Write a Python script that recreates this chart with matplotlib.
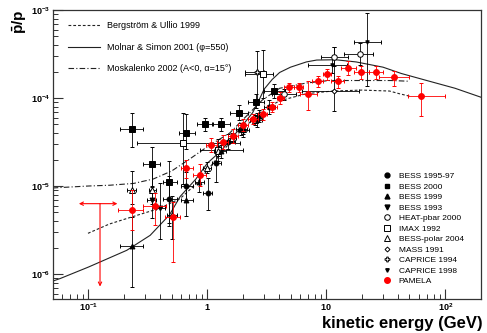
import numpy as np
import matplotlib
matplotlib.use('Agg')
import matplotlib.pyplot as plt
from matplotlib.lines import Line2D

plt.rcParams['font.family'] = ['Liberation Sans', 'DejaVu Sans']
plt.rcParams['mathtext.fontset'] = 'custom'
plt.rcParams['mathtext.rm'] = 'Liberation Sans'
plt.rcParams['mathtext.bf'] = 'Liberation Sans:bold'
plt.rcParams['mathtext.it'] = 'Liberation Sans:italic'

# ---------------- theoretical curves ----------------
molnar_x = [0.05, 0.058, 0.1, 0.21, 0.33, 0.48, 0.59, 0.8, 1.0, 1.3, 1.63, 2.0, 2.4, 2.7,
            3.0, 3.5, 4.05, 5.0, 6.8, 8.3, 12, 17.8, 30, 42.7, 70, 121, 200]
molnar_y = [8.3e-7, 8.9e-7, 1.2e-6, 1.86e-6, 2.75e-6, 4.7e-6, 7.6e-6, 1.2e-5, 1.82e-5, 2.5e-5,
            3.6e-5, 5.0e-5, 6.8e-5, 9.3e-5, 1.26e-4, 1.62e-4, 1.95e-4, 2.24e-4, 2.57e-4, 2.7e-4,
            2.72e-4, 2.57e-4, 2.24e-4, 1.9e-4, 1.58e-4, 1.29e-4, 1.02e-4]

bergstrom_x = [0.099, 0.15, 0.25, 0.4, 0.59, 0.8, 1.0, 1.54, 2.0, 2.9, 4.05, 6.8, 11.3, 20, 34, 41, 50]
bergstrom_y = [2.9e-6, 3.7e-6, 4.6e-6, 5.6e-6, 7.2e-6, 1.05e-5, 1.51e-5, 3.1e-5, 4.5e-5, 7.2e-5,
               9.3e-5, 1.12e-4, 1.2e-4, 1.23e-4, 1.2e-4, 1.12e-4, 1.05e-4]

moskalenko_x = [0.05, 0.1, 0.15, 0.24, 0.35, 0.5, 0.7, 1.0, 1.54, 2.27, 2.9, 4.05, 6.8, 10.6, 20, 35, 50]
moskalenko_y = [9.5e-6, 1.0e-5, 1.02e-5, 1.07e-5, 1.2e-5, 1.48e-5, 2.0e-5, 2.8e-5, 4.0e-5, 6.8e-5,
                9.5e-5, 1.29e-4, 1.48e-4, 1.58e-4, 1.58e-4, 1.58e-4, 1.55e-4]

# ---------------- PAMELA ----------------
pam_x = [0.23, 0.36, 0.51, 0.667, 0.86, 1.08, 1.35, 1.64, 1.99, 2.41, 2.93, 3.51, 4.09, 4.90,
         5.88, 7.07, 8.49, 10.1, 12.5, 15.3, 19.7, 26.2, 37.2, 62.5]
pam_y = [5.4e-6, 5.9e-6, 4.5e-6, 1.62e-5, 1.35e-5, 2.95e-5, 3.16e-5, 3.7e-5, 4.9e-5, 5.75e-5,
         6.5e-5, 7.9e-5, 1.0e-4, 1.32e-4, 1.32e-4, 1.1e-4, 1.55e-4, 1.86e-4, 1.55e-4, 2.19e-4,
         1.95e-4, 1.95e-4, 1.74e-4, 1.05e-4]
pam_ylo = [3.2e-6, 3.6e-6, 1.38e-6, 1.23e-5, 1.0e-5, 2.45e-5, 2.63e-5, 3.1e-5, 4.2e-5, 5.0e-5,
           5.6e-5, 6.9e-5, 8.5e-5, 1.18e-4, 1.18e-4, 7.4e-5, 1.35e-4, 1.62e-4, 1.3e-4, 1.82e-4,
           1.66e-4, 1.66e-4, 1.38e-4, 6.3e-5]
pam_yhi = [8.9e-6, 8.3e-6, 6.5e-6, 2.0e-5, 1.78e-5, 3.55e-5, 3.8e-5, 4.4e-5, 5.7e-5, 6.6e-5,
           7.5e-5, 9.0e-5, 1.17e-4, 1.48e-4, 1.48e-4, 1.55e-4, 1.78e-4, 2.14e-4, 1.78e-4, 2.63e-4,
           2.3e-4, 2.3e-4, 2.04e-4, 1.48e-4]
pam_xlo = [0.177, 0.29, 0.44, 0.605, 0.76, 0.97, 1.2, 1.5, 1.8, 2.2, 2.65, 3.2, 3.85, 4.45,
           5.4, 6.0, 7.6, 9.3, 11.0, 13.3, 17.2, 22.7, 27.9, 48.4]
pam_xhi = [0.29, 0.45, 0.59, 0.76, 0.97, 1.2, 1.5, 1.8, 2.2, 2.65, 3.2, 3.85, 4.45, 5.4,
           6.4, 8.3, 9.3, 11.0, 14.1, 17.8, 22.7, 30.1, 49.6, 100]

# PAMELA upper limit
ul_x, ul_y, ul_xlo, ul_xhi, ul_ymin = 0.125, 6.3e-6, 0.083, 0.175, 7.2e-7

# ---------------- other experiments ----------------
bess9597_x = [0.48, 0.667, 1.01, 1.19, 1.5, 2.0, 2.6, 3.3]
bess9597_y = [7.1e-6, 1.0e-5, 8.3e-6, 1.82e-5, 3.2e-5, 4.3e-5, 5.6e-5, 7.9e-5]
bess9597_ylo = [3.5e-6, 6.5e-6, 5.4e-6, 1.12e-5, 2.6e-5, 3.6e-5, 4.7e-5, 6.5e-5]
bess9597_yhi = [1.3e-5, 1.45e-5, 1.23e-5, 2.4e-5, 3.9e-5, 5.2e-5, 6.7e-5, 9.6e-5]
bess9597_xlo = [0.42, 0.6, 0.92, 1.1, 1.35, 1.8, 2.3, 3.0]
bess9597_xhi = [0.55, 0.75, 1.1, 1.3, 1.7, 2.25, 2.9, 3.7]

bess2000_x = [0.23, 0.34, 0.48, 0.667, 0.95, 1.31, 1.84, 2.58, 3.6]
bess2000_y = [4.4e-5, 1.78e-5, 1.12e-5, 4.0e-5, 5.0e-5, 5.0e-5, 6.8e-5, 9.1e-5, 1.2e-4]
bess2000_ylo = [2.8e-5, 9.8e-6, 3.8e-6, 2.6e-5, 4.2e-5, 4.2e-5, 5.6e-5, 7.6e-5, 1.0e-4]
bess2000_yhi = [6.8e-5, 2.8e-5, 1.9e-5, 6.5e-5, 5.9e-5, 5.9e-5, 8.3e-5, 1.1e-4, 1.45e-4]
bess2000_xlo = [0.184, 0.29, 0.42, 0.58, 0.82, 1.12, 1.55, 2.2, 3.0]
bess2000_xhi = [0.288, 0.40, 0.56, 0.78, 1.1, 1.55, 2.2, 3.0, 4.5]

bess1999_x = [0.23, 0.667, 0.85, 1.3, 1.9, 2.7]
bess1999_y = [2.1e-6, 6.9e-6, 1.1e-5, 2.5e-5, 4.5e-5, 6.3e-5]
bess1999_ylo = [7.2e-7, 4.6e-6, 8.5e-6, 2.1e-5, 3.8e-5, 5.4e-5]
bess1999_yhi = [4.5e-6, 1.0e-5, 1.35e-5, 2.9e-5, 5.2e-5, 7.3e-5]
bess1999_xlo = [0.184, 0.6, 0.78, 1.2, 1.75, 2.5]
bess1999_xhi = [0.288, 0.76, 0.93, 1.42, 2.05, 2.9]

bess1993_x = [0.34, 0.40]
bess1993_y = [6.9e-6, 5.6e-6]
bess1993_ylo = [4.3e-6, 2.5e-6]
bess1993_yhi = [1.0e-5, 1.07e-5]
bess1993_xlo = [0.31, 0.37]
bess1993_xhi = [0.37, 0.44]

heat_x = [4.45, 11.7, 19.2]
heat_y = [1.1e-4, 2.9e-4, 3.2e-4]
heat_ylo = [9.5e-5, 2.3e-4, 2.37e-4]
heat_yhi = [1.27e-4, 3.8e-4, 4.2e-4]
heat_xlo = [3.5, 9.0, 14.1]
heat_xhi = [5.6, 15.2, 24.5]

imax_x = [0.62, 1.23, 2.93]
imax_y = [3.1e-5, 2.57e-5, 1.86e-4]
imax_ylo = [1.05e-5, 1.9e-5, 1.0e-4]
imax_yhi = [6.8e-5, 3.4e-5, 3.55e-4]
imax_xlo = [0.254, 0.86, 2.06]
imax_xhi = [1.87, 1.98, 3.55]

polar_x = [0.23, 0.345, 0.50, 0.99, 1.23, 1.6, 2.0, 2.5]
polar_y = [8.9e-6, 8.9e-6, 4.7e-6, 1.62e-5, 2.5e-5, 3.55e-5, 4.5e-5, 5.6e-5]
polar_ylo = [6.3e-6, 6.3e-6, 2.5e-6, 1.42e-5, 2.2e-5, 3.1e-5, 3.95e-5, 4.9e-5]
polar_yhi = [1.5e-5, 1.8e-5, 7.6e-6, 1.85e-5, 2.85e-5, 4.0e-5, 5.1e-5, 6.4e-5]
polar_xlo = [0.21, 0.32, 0.46, 0.92, 1.14, 1.48, 1.85, 2.3]
polar_xhi = [0.25, 0.37, 0.55, 1.07, 1.33, 1.73, 2.16, 2.7]

mass_x = [11.5]
mass_y = [1.2e-4]
mass_ylo = [7.2e-5]
mass_yhi = [3.8e-4]
mass_xlo = [6.3]
mass_xhi = [19]

cap94_x = [2.62]
cap94_y = [1.95e-4]
cap94_ylo = [9.5e-5]
cap94_yhi = [3.4e-4]
cap94_xlo = [2.06]
cap94_xhi = [3.0]

cap98_x = [11.2, 22]
cap98_y = [2.35e-4, 4.3e-4]
cap98_ylo = [1.9e-4, 1.38e-4]
cap98_yhi = [2.9e-4, 9.3e-4]
cap98_xlo = [7.0, 17.2]
cap98_xhi = [15, 28.8]

legend_lines = ['Bergström & Ullio 1999', 'Molnar & Simon 2001 (φ=550)',
                'Moskalenko 2002 (A<0, α=15°)']
legend_markers = ['BESS 1995-97', 'BESS 2000', 'BESS 1999', 'BESS 1993', 'HEAT-pbar 2000',
                  'IMAX 1992', 'BESS-polar 2004', 'MASS 1991', 'CAPRICE 1994', 'CAPRICE 1998',
                  'PAMELA']

# ---------------- figure ----------------
W, H = 487, 333
fig = plt.figure(figsize=(W / 100, H / 100), dpi=100)
ax = fig.add_axes([52.7 / W, 1 - 299 / H, (481 - 52.7) / W, (299 - 10) / H])
ax.set_xscale('log')
ax.set_yscale('log')
ax.set_xlim(0.05, 200)
ax.set_ylim(5.2e-7, 1.0e-3)

lw_curve = 0.8
ax.plot(bergstrom_x, bergstrom_y, color='#222222', lw=lw_curve, ls=(0, (2.5, 1.8)))
ax.plot(molnar_x, molnar_y, color='#222222', lw=lw_curve, ls='-')
ax.plot(moskalenko_x, moskalenko_y, color='#222222', lw=lw_curve, ls=(0, (5, 2, 1, 2)))


def draw(x, y, ylo, yhi, xlo, xhi, marker, color='black', mfc='black', ms=3.5, z=3):
    x = np.asarray(x, float); y = np.asarray(y, float)
    ylo = np.asarray(ylo, float); yhi = np.asarray(yhi, float)
    xlo = np.asarray(xlo, float); xhi = np.asarray(xhi, float)
    ax.errorbar(x, y, yerr=[y - ylo, yhi - y], xerr=[x - xlo, xhi - x], fmt=marker,
                color=color, mfc=mfc, mec=color, ms=ms, mew=0.7, elinewidth=0.6,
                capsize=1.5, capthick=0.6, zorder=z)


draw(imax_x, imax_y, imax_ylo, imax_yhi, imax_xlo, imax_xhi, 's', mfc='white', ms=4)
draw(mass_x, mass_y, mass_ylo, mass_yhi, mass_xlo, mass_xhi, 'D', mfc='white', ms=2.5)
draw(heat_x, heat_y, heat_ylo, heat_yhi, heat_xlo, heat_xhi, 'o', mfc='white', ms=4)
draw(cap94_x, cap94_y, cap94_ylo, cap94_yhi, cap94_xlo, cap94_xhi, 'P', mfc='white', ms=3.5)
draw(cap98_x, cap98_y, cap98_ylo, cap98_yhi, cap98_xlo, cap98_xhi, 'v', ms=2.5)
draw(polar_x, polar_y, polar_ylo, polar_yhi, polar_xlo, polar_xhi, '^', mfc='white', ms=4)
draw(bess1993_x, bess1993_y, bess1993_ylo, bess1993_yhi, bess1993_xlo, bess1993_xhi, 'v', ms=3.5)
draw(bess1999_x, bess1999_y, bess1999_ylo, bess1999_yhi, bess1999_xlo, bess1999_xhi, '^', ms=3.5)
draw(bess9597_x, bess9597_y, bess9597_ylo, bess9597_yhi, bess9597_xlo, bess9597_xhi, 'o', ms=3.5)
draw(bess2000_x, bess2000_y, bess2000_ylo, bess2000_yhi, bess2000_xlo, bess2000_xhi, 's', ms=4)
draw(pam_x, pam_y, pam_ylo, pam_yhi, pam_xlo, pam_xhi, 'o', color='red', mfc='red', ms=4.2, z=5)

# PAMELA upper limit
arr = dict(arrowstyle='->', color='red', lw=0.8, shrinkA=0, shrinkB=0, mutation_scale=6)
ax.annotate('', xy=(ul_xlo, ul_y), xytext=(ul_x, ul_y), arrowprops=arr)
ax.annotate('', xy=(ul_xhi, ul_y), xytext=(ul_x, ul_y), arrowprops=arr)
ax.annotate('', xy=(ul_x, ul_ymin), xytext=(ul_x, ul_y), arrowprops=arr)

# ---------------- axes styling ----------------
for s in ax.spines.values():
    s.set_color('#333333')
    s.set_linewidth(0.9)
ax.tick_params(which='both', direction='in', top=False, right=False, color='#333333')
ax.tick_params(which='major', length=7, width=0.8)
ax.tick_params(which='minor', length=3.6, width=0.7)
ax.set_yticks([1e-6, 1e-5, 1e-4, 1e-3])
ax.set_yticklabels([r'$\mathbf{10^{-6}}$', r'$\mathbf{10^{-5}}$', r'$\mathbf{10^{-4}}$',
                    r'$\mathbf{10^{-3}}$'], fontsize=6.5)
ax.set_xticks([0.1, 1, 10, 100])
ax.set_xticklabels([r'$\mathbf{10^{-1}}$', r'$\mathbf{1}$', r'$\mathbf{10}$', r'$\mathbf{10^{2}}$'],
                   fontsize=6.5)
ax.tick_params(axis='x', pad=2)
ax.tick_params(axis='y', pad=2)

fig.text(20 / W, 1 - 10 / H, r'$\mathbf{\bar{p}/p}$', rotation=90, ha='center', va='top',
         fontsize=11)
fig.text(483 / W, 1 - 331 / H, 'kinetic energy (GeV)', ha='right', va='bottom',
         fontsize=12, fontweight='bold')

# line legend
lh = [Line2D([], [], color='#222222', lw=lw_curve, ls=(0, (2.5, 1.8))),
      Line2D([], [], color='#222222', lw=lw_curve, ls='-'),
      Line2D([], [], color='#222222', lw=lw_curve, ls=(0, (5, 2, 1, 2)))]
leg1 = ax.legend(lh, legend_lines, loc='upper left', bbox_to_anchor=(68 / W, 1 - 21.5 / H),
                 bbox_transform=fig.transFigure, frameon=False, fontsize=6.5,
                 handlelength=3.5, handletextpad=0.8, labelspacing=1.38,
                 borderpad=0, borderaxespad=0)
ax.add_artist(leg1)

mh = [Line2D([], [], marker='o', ls='none', color='black', ms=3.5),
      Line2D([], [], marker='s', ls='none', color='black', ms=3.5),
      Line2D([], [], marker='^', ls='none', color='black', ms=3.5),
      Line2D([], [], marker='v', ls='none', color='black', ms=3.5),
      Line2D([], [], marker='o', ls='none', color='black', mfc='white', ms=4, mew=0.7),
      Line2D([], [], marker='s', ls='none', color='black', mfc='white', ms=4, mew=0.7),
      Line2D([], [], marker='^', ls='none', color='black', mfc='white', ms=4, mew=0.7),
      Line2D([], [], marker='D', ls='none', color='black', mfc='white', ms=2.5, mew=0.7),
      Line2D([], [], marker='P', ls='none', color='black', mfc='white', ms=3.5, mew=0.7),
      Line2D([], [], marker='v', ls='none', color='black', ms=2.5),
      Line2D([], [], marker='o', ls='none', color='red', ms=4)]
leg2 = ax.legend(mh, legend_markers, loc='upper left', bbox_to_anchor=(383 / W, 1 - 172.5 / H),
                 bbox_transform=fig.transFigure, frameon=False, fontsize=6,
                 handlelength=1.0, handletextpad=0.9, labelspacing=0.32,
                 borderpad=0, borderaxespad=0)

fig.savefig('out.png', dpi=100)
